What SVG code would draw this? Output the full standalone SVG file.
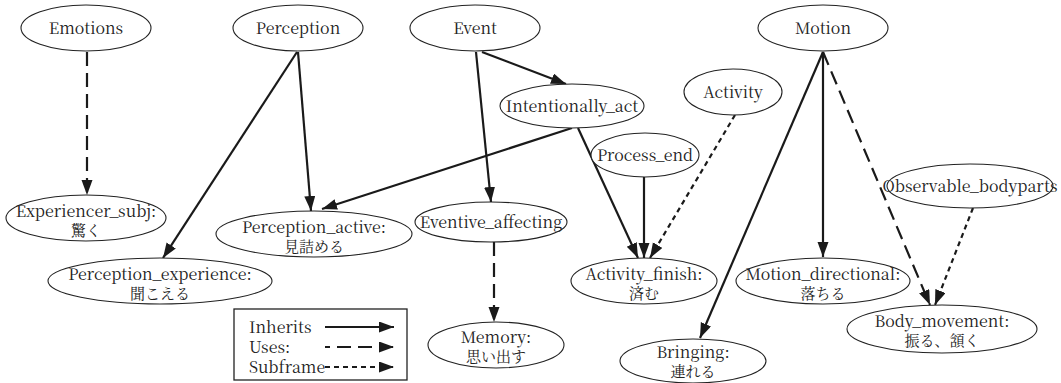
<svg xmlns="http://www.w3.org/2000/svg" width="1061" height="383" viewBox="0 0 1061 383">
<defs>
<marker id="a" markerUnits="userSpaceOnUse" markerWidth="16" markerHeight="12" refX="15" refY="5.5" orient="auto">
<path d="M0,0 L15,5.5 L0,11 z" fill="#1a1a1a" stroke="none"/>
</marker>
</defs>
<g id="connectors" fill="none" stroke="#1a1a1a" stroke-width="2.2">
<line stroke-dasharray="14 7" x1="87" y1="52" x2="87" y2="195" marker-end="url(#a)"/>
<line x1="297" y1="52" x2="163" y2="258" marker-end="url(#a)"/>
<line x1="298" y1="52" x2="311" y2="211" marker-end="url(#a)"/>
<line x1="482" y1="52" x2="566" y2="84" marker-end="url(#a)"/>
<line x1="476" y1="52" x2="491" y2="202" marker-end="url(#a)"/>
<line x1="572" y1="128" x2="322" y2="209" marker-end="url(#a)"/>
<line x1="578" y1="128" x2="638" y2="258" marker-end="url(#a)"/>
<line x1="644" y1="177" x2="644" y2="258" marker-end="url(#a)"/>
<line stroke-dasharray="5 4" x1="735" y1="115" x2="650" y2="258" marker-end="url(#a)"/>
<line stroke-dasharray="14 7" x1="494" y1="242" x2="494" y2="322" marker-end="url(#a)"/>
<line x1="823" y1="52" x2="700" y2="338" marker-end="url(#a)"/>
<line x1="823" y1="52" x2="823" y2="257" marker-end="url(#a)"/>
<line stroke-dasharray="14 7" x1="823" y1="52" x2="930" y2="305" marker-end="url(#a)"/>
<line stroke-dasharray="5 4" x1="973" y1="208" x2="935" y2="305" marker-end="url(#a)"/>
</g>
<g id="nodes" fill="#fff" stroke="#222" stroke-width="1.1" text-anchor="middle">
<g id="Emotions"><ellipse cx="86" cy="28" rx="65" ry="23"/><text x="86" y="34" font-family="'Noto Serif CJK JP', serif" font-size="16" fill="#222" stroke="none">Emotions</text></g>
<g id="Perception"><ellipse cx="298" cy="28" rx="65" ry="23"/><text x="298" y="34" font-family="'Noto Serif CJK JP', serif" font-size="16" fill="#222" stroke="none">Perception</text></g>
<g id="Event"><ellipse cx="475" cy="28" rx="65" ry="23"/><text x="475" y="34" font-family="'Noto Serif CJK JP', serif" font-size="16" fill="#222" stroke="none">Event</text></g>
<g id="Motion"><ellipse cx="823" cy="28" rx="65" ry="23"/><text x="823" y="34" font-family="'Noto Serif CJK JP', serif" font-size="16" fill="#222" stroke="none">Motion</text></g>
<g id="Intentionally_act"><ellipse cx="572" cy="106" rx="72" ry="22"/><text x="572" y="112" font-family="'Noto Serif CJK JP', serif" font-size="16" fill="#222" stroke="none">Intentionally_act</text></g>
<g id="Activity"><ellipse cx="733" cy="92" rx="49" ry="23"/><text x="733" y="98" font-family="'Noto Serif CJK JP', serif" font-size="16" fill="#222" stroke="none">Activity</text></g>
<g id="Process_end"><ellipse cx="645" cy="155" rx="54" ry="22"/><text x="645" y="161" font-family="'Noto Serif CJK JP', serif" font-size="16" fill="#222" stroke="none">Process_end</text></g>
<g id="Observable_bodyparts"><ellipse cx="970" cy="186" rx="83" ry="22"/><text x="970" y="192" font-family="'Noto Serif CJK JP', serif" font-size="16" fill="#222" stroke="none">Observable_bodyparts</text></g>
<g id="Experiencer_subj"><ellipse cx="86" cy="218" rx="80" ry="23"/><text x="86" y="217" font-family="'Noto Serif CJK JP', serif" font-size="16" fill="#222" stroke="none">Experiencer_subj:</text><text x="86" y="236" font-family="'Noto Serif CJK JP', serif" font-size="15" fill="#222" stroke="none">驚く</text></g>
<g id="Perception_active"><ellipse cx="314" cy="234" rx="98" ry="23"/><text x="314" y="233" font-family="'Noto Serif CJK JP', serif" font-size="16" fill="#222" stroke="none">Perception_active:</text><text x="314" y="252" font-family="'Noto Serif CJK JP', serif" font-size="15" fill="#222" stroke="none">見詰める</text></g>
<g id="Perception_experience"><ellipse cx="160" cy="281" rx="112" ry="23"/><text x="160" y="280" font-family="'Noto Serif CJK JP', serif" font-size="16" fill="#222" stroke="none">Perception_experience:</text><text x="160" y="299" font-family="'Noto Serif CJK JP', serif" font-size="15" fill="#222" stroke="none">聞こえる</text></g>
<g id="Eventive_affecting"><ellipse cx="491" cy="222" rx="76" ry="20"/><text x="491" y="228" font-family="'Noto Serif CJK JP', serif" font-size="16" fill="#222" stroke="none">Eventive_affecting</text></g>
<g id="Memory"><ellipse cx="496" cy="345" rx="68" ry="23"/><text x="496" y="343" font-family="'Noto Serif CJK JP', serif" font-size="16" fill="#222" stroke="none">Memory:</text><text x="496" y="362" font-family="'Noto Serif CJK JP', serif" font-size="15" fill="#222" stroke="none">思い出す</text></g>
<g id="Activity_finish"><ellipse cx="644" cy="281" rx="73" ry="23"/><text x="644" y="280" font-family="'Noto Serif CJK JP', serif" font-size="16" fill="#222" stroke="none">Activity_finish:</text><text x="644" y="299" font-family="'Noto Serif CJK JP', serif" font-size="15" fill="#222" stroke="none">済む</text></g>
<g id="Motion_directional"><ellipse cx="823" cy="281" rx="87" ry="23"/><text x="823" y="280" font-family="'Noto Serif CJK JP', serif" font-size="16" fill="#222" stroke="none">Motion_directional:</text><text x="823" y="299" font-family="'Noto Serif CJK JP', serif" font-size="15" fill="#222" stroke="none">落ちる</text></g>
<g id="Body_movement"><ellipse cx="942" cy="329" rx="95" ry="24"/><text x="942" y="327" font-family="'Noto Serif CJK JP', serif" font-size="16" fill="#222" stroke="none">Body_movement:</text><text x="942" y="346" font-family="'Noto Serif CJK JP', serif" font-size="15" fill="#222" stroke="none">振る、頷く</text></g>
<g id="Bringing"><ellipse cx="693" cy="361" rx="73" ry="22"/><text x="693" y="358" font-family="'Noto Serif CJK JP', serif" font-size="16" fill="#222" stroke="none">Bringing:</text><text x="693" y="377" font-family="'Noto Serif CJK JP', serif" font-size="15" fill="#222" stroke="none">連れる</text></g>
</g>
<g id="legend">
<rect x="234" y="309" width="173" height="71" fill="#fff" stroke="#222" stroke-width="1.3"/>
<text x="249" y="333" font-family="'Noto Serif CJK JP', serif" font-size="16" fill="#222">Inherits</text>
<text x="249" y="353" font-family="'Noto Serif CJK JP', serif" font-size="16" fill="#222">Uses:</text>
<text x="249" y="373" font-family="'Noto Serif CJK JP', serif" font-size="16" fill="#222">Subframe</text>
<g fill="none" stroke="#1a1a1a" stroke-width="2.2">
<line x1="325" y1="327" x2="394" y2="327" marker-end="url(#a)"/>
<line stroke-dasharray="14 7" stroke-dashoffset="9" x1="325" y1="347" x2="394" y2="347" marker-end="url(#a)"/>
<line stroke-dasharray="5 4" x1="325" y1="367" x2="394" y2="367" marker-end="url(#a)"/>
</g>
</g>
</svg>
